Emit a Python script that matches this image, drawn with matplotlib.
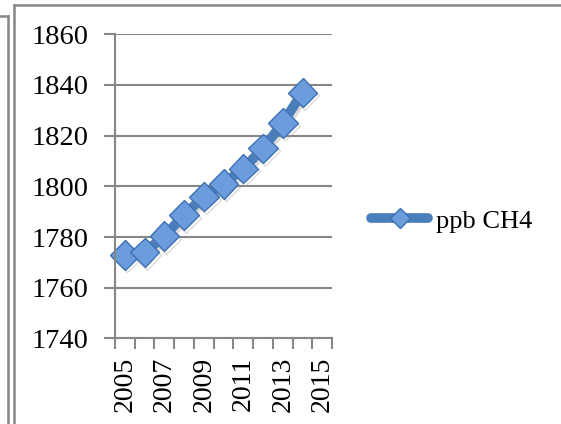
import numpy as np
import matplotlib.pyplot as plt
from matplotlib.lines import Line2D
import matplotlib.patheffects as pe

# annual mean methane concentration
years = [2005, 2006, 2007, 2008, 2009, 2010, 2011, 2012, 2013, 2014, 2015]
ppb = [1773, 1774, 1780.4, 1788.7, 1795.9, 1801, 1807, 1815, 1825, 1837, np.nan]
ytick_vals = [1740, 1760, 1780, 1800, 1820, 1840, 1860]
series_name = 'ppb CH4'

plt.rcParams['font.family'] = ['Liberation Serif', 'DejaVu Serif']

fig = plt.figure(figsize=(5.61, 4.24), dpi=100)
ax = fig.add_axes([0.205, 0.2017, 0.387, 0.7175])

grey = '#878787'
blue = '#4A7EBB'

# category axis: one slot per year, data at slot centres
x = np.arange(len(years))
ax.set_xlim(-0.5, len(years) - 0.5)
ax.set_ylim(1740, 1860)

ax.set_yticks(ytick_vals)
ax.yaxis.grid(True, color=grey, linewidth=1.5)
ax.set_axisbelow(True)

ax.set_xticks(x[::2])
ax.set_xticklabels([str(y) for y in years[::2]], rotation=90)
ax.set_xticks(np.arange(len(years) + 1) - 0.5, minor=True)
ax.tick_params(axis='x', which='major', length=0, pad=13, labelsize=20)
ax.tick_params(axis='x', which='minor', length=8, width=1.5, color=grey, direction='out')
ax.tick_params(axis='y', length=8, width=1.5, color=grey, direction='out', labelsize=20.5, pad=11)

for side in ['top', 'right']:
    ax.spines[side].set_visible(False)
ax.spines['left'].set_color(grey)
ax.spines['bottom'].set_color(grey)
ax.spines['left'].set_linewidth(1.5)
ax.spines['bottom'].set_linewidth(1.5)

shadow = [pe.SimpleLineShadow(offset=(1.5, -2), shadow_color='#999999', alpha=0.35), pe.Normal()]
ax.plot(x, ppb, color=blue, linewidth=7, solid_capstyle='round',
        marker='D', markersize=15, markerfacecolor='#6B9DDC', markeredgecolor='#3D70B3',
        markeredgewidth=1, label=series_name, path_effects=shadow, clip_on=False)

leg = fig.legend(*ax.get_legend_handles_labels(), loc='center left',
                 bbox_to_anchor=(0.662, 0.479), frameon=False, fontsize=19,
                 handlelength=2.15, handletextpad=0.3, borderaxespad=0, borderpad=0)
for h in leg.legend_handles:
    h.set_markersize(10)
    h.set_linewidth(7)
    h.set_path_effects([])

# chart frame lines
fw = 1.8
fig.add_artist(Line2D([14 / 561, 14 / 561], [0, 1 - 5 / 424], color=grey, linewidth=fw))
fig.add_artist(Line2D([14 / 561, 1], [1 - 5 / 424, 1 - 5 / 424], color=grey, linewidth=fw))
fig.add_artist(Line2D([8 / 561, 8 / 561], [0, 1 - 16 / 424], color=grey, linewidth=fw))
fig.add_artist(Line2D([0, 8 / 561], [1 - 16 / 424, 1 - 16 / 424], color=grey, linewidth=fw))

fig.savefig('out.png', dpi=100)
